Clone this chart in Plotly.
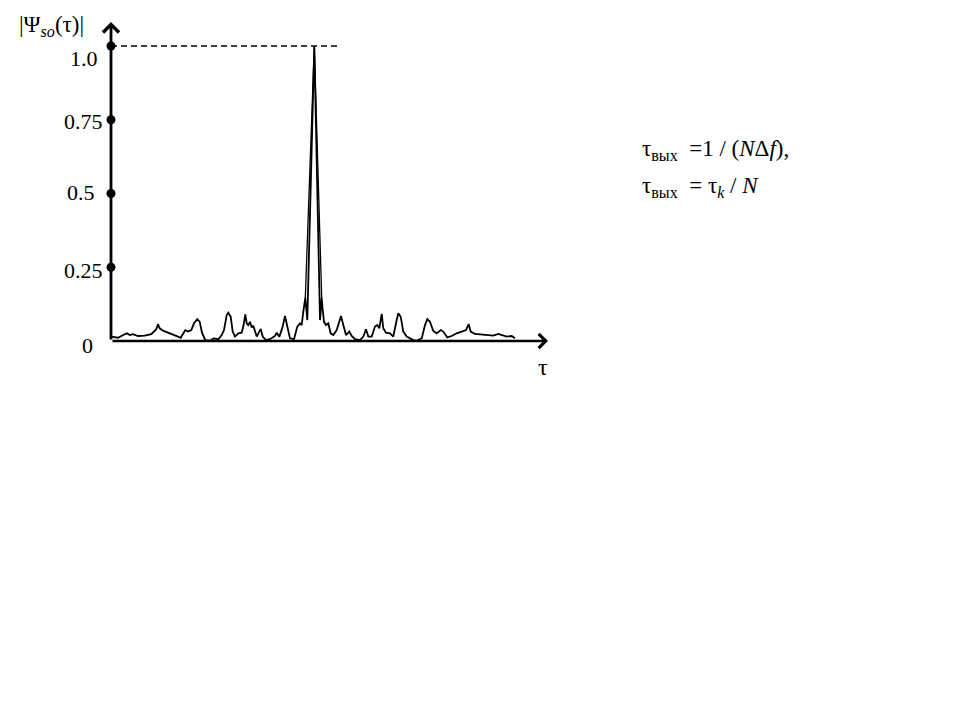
import plotly.graph_objects as go

# ---- data ----
tau = [0, 7, 13.7, 16, 18.7, 22, 27, 33.7, 40.3, 45.3, 47, 48.7, 52, 57, 62, 67, 69.7,
       72, 74.3, 77, 80.3, 83, 86.3, 88.7, 91, 94.3, 98.7, 103, 105.3, 107.3, 110.7,
       113, 115.7, 117.3, 119.7, 121.7, 124, 127.3, 130.7, 132.3, 134.3, 135.7, 137.3,
       139, 140.7, 142.3, 145.7, 149.7, 151.7, 155, 159, 164, 165.7, 168.3, 171.7, 174,
       176.3, 179, 183, 186.3, 189, 190.7, 192.3, 194.3, 196.3, 203.3, 209, 210.7,
       211.7, 213, 215, 217.3, 219.7, 222.3, 225.7, 228, 230, 232.3, 235, 238.3, 240.7,
       244, 249, 252.3, 255, 257.3, 260.7, 264, 266.3, 268.3, 270.7, 272.3, 275, 279,
       282.3, 285, 287.3, 289.7, 292.3, 295.7, 299, 302.3, 305.7, 310.7, 314, 316.3,
       319, 322.3, 325.7, 329.7, 332.3, 336.3, 340.7, 345.7, 350.7, 355, 357.7, 359.7,
       364, 369, 375.7, 382.3, 387.3, 390.7, 395.7, 400.7, 404]
psi = [0.015, 0.011, 0.023, 0.026, 0.020, 0.023, 0.017, 0.018, 0.023, 0.040, 0.057,
       0.043, 0.035, 0.029, 0.023, 0.015, 0.011, 0.026, 0.037, 0.032, 0.037, 0.060,
       0.074, 0.065, 0.028, 0.003, 0.001, 0.009, 0.006, 0.006, 0.020, 0.037, 0.088,
       0.096, 0.082, 0.032, 0.015, 0.026, 0.028, 0.049, 0.090, 0.060, 0.054, 0.065,
       0.046, 0.052, 0.015, 0.041, 0.015, 0.003, 0.006, 0.017, 0.028, 0.014, 0.049,
       0.085, 0.049, 0.009, 0.006, 0.049, 0.060, 0.054, 0.100, 0.146, 0.071, 1.000,
       0.071, 0.146, 0.105, 0.065, 0.054, 0.060, 0.026, 0.020, 0.037, 0.060, 0.085,
       0.054, 0.020, 0.032, 0.017, 0.006, 0.003, 0.015, 0.040, 0.015, 0.015, 0.049,
       0.054, 0.043, 0.092, 0.043, 0.028, 0.026, 0.015, 0.060, 0.094, 0.082, 0.032,
       0.015, 0.009, 0.003, 0.001, 0.009, 0.054, 0.074, 0.065, 0.034, 0.026, 0.037,
       0.032, 0.012, 0.017, 0.026, 0.032, 0.037, 0.057, 0.032, 0.024, 0.023, 0.020,
       0.018, 0.024, 0.020, 0.015, 0.017, 0.009]

# outer edge of the main lobe (drawn doubled in the original)
lobe_tau = [194.3, 203.3, 210.7]
lobe_psi = [0.146, 1.000, 0.146]

tick_vals = [1.0, 0.75, 0.5, 0.25]
tick_text = ["1.0", "0.75", "0.5", "0.25", "0"]
label_vals = [1.0, 0.75, 0.5, 0.25, 0.0]
label_xshift = [-11, -6, -14, -6, -16]
label_yshift = [-12, -2, 1, -3, -4]

x_max = 437
y_max = 1.0814
dash_end = 227

SERIF = "Liberation Serif, Times New Roman, serif"

fig = go.Figure()
fig.add_trace(go.Scatter(x=tau, y=psi, mode="lines",
                         line=dict(color="black", width=1.8), cliponaxis=False,
                         hoverinfo="skip"))
fig.add_trace(go.Scatter(x=lobe_tau, y=lobe_psi, mode="lines",
                         line=dict(color="black", width=1.3), cliponaxis=False,
                         hoverinfo="skip"))
fig.add_trace(go.Scatter(x=[0] * len(tick_vals), y=tick_vals, mode="markers",
                         marker=dict(color="black", size=9), cliponaxis=False,
                         hoverinfo="skip"))

# dashed level line at 1.0
fig.add_shape(type="line", x0=0, x1=dash_end, y0=1.0, y1=1.0, xref="x", yref="y",
              line=dict(color="black", width=1.6, dash="6px,4px"))

# axes with arrows
fig.add_annotation(x=0, y=y_max, ax=0, ay=0, xref="x", yref="y", axref="x", ayref="y",
                   text="", showarrow=True, arrowhead=4, arrowsize=1.1, arrowwidth=2.8,
                   arrowcolor="black")
fig.add_annotation(x=x_max, y=0, ax=0, ay=0, xref="x", yref="y", axref="x", ayref="y",
                   text="", showarrow=True, arrowhead=4, arrowsize=1.1, arrowwidth=2.5,
                   arrowcolor="black")

# tick labels
for t, v, xs, ys in zip(tick_text, label_vals, label_xshift, label_yshift):
    fig.add_annotation(x=0, y=v, xref="x", yref="y", text=t, showarrow=False,
                       xanchor="right", yanchor="middle", xshift=xs, yshift=ys,
                       font=dict(family=SERIF, size=22, color="black"))

# axis titles
fig.add_annotation(x=0, y=y_max, xref="x", yref="y",
                   text="|Ψ<sub><i>so</i></sub>(τ)|", showarrow=False,
                   xanchor="right", yanchor="middle", xshift=-25, yshift=-4,
                   font=dict(family=SERIF, size=23, color="black"))
fig.add_annotation(x=x_max, y=0, xref="x", yref="y", text="τ", showarrow=False,
                   xanchor="center", yanchor="middle", xshift=-5, yshift=-26,
                   font=dict(family=SERIF, size=24, color="black"))

# formulas
fig.add_annotation(x=1.2105, y=0.5987, xref="paper", yref="paper",
                   text="τ<sub>вых</sub>&nbsp;&nbsp;=1&nbsp;/&nbsp;(<i>N</i>Δ<i>f</i>),",
                   showarrow=False, xanchor="left", yanchor="middle",
                   font=dict(family=SERIF, size=23, color="black"))
fig.add_annotation(x=1.2105, y=0.4828, xref="paper", yref="paper",
                   text="τ<sub>вых</sub>&nbsp;&nbsp;=&nbsp;τ<sub><i>k</i></sub>&nbsp;/&nbsp;<i>N</i>",
                   showarrow=False, xanchor="left", yanchor="middle",
                   font=dict(family=SERIF, size=23, color="black"))

# page body has an 8px margin: shift the figure so the plot lands where the reference has it
fig.update_layout(
    width=952, height=712,
    margin=dict(l=103, r=412, t=14, b=379),
    paper_bgcolor="white", plot_bgcolor="white",
    showlegend=False,
    xaxis=dict(range=[0, x_max], visible=False, fixedrange=True),
    yaxis=dict(range=[0, y_max], visible=False, fixedrange=True),
)

fig.write_html("out.html")
